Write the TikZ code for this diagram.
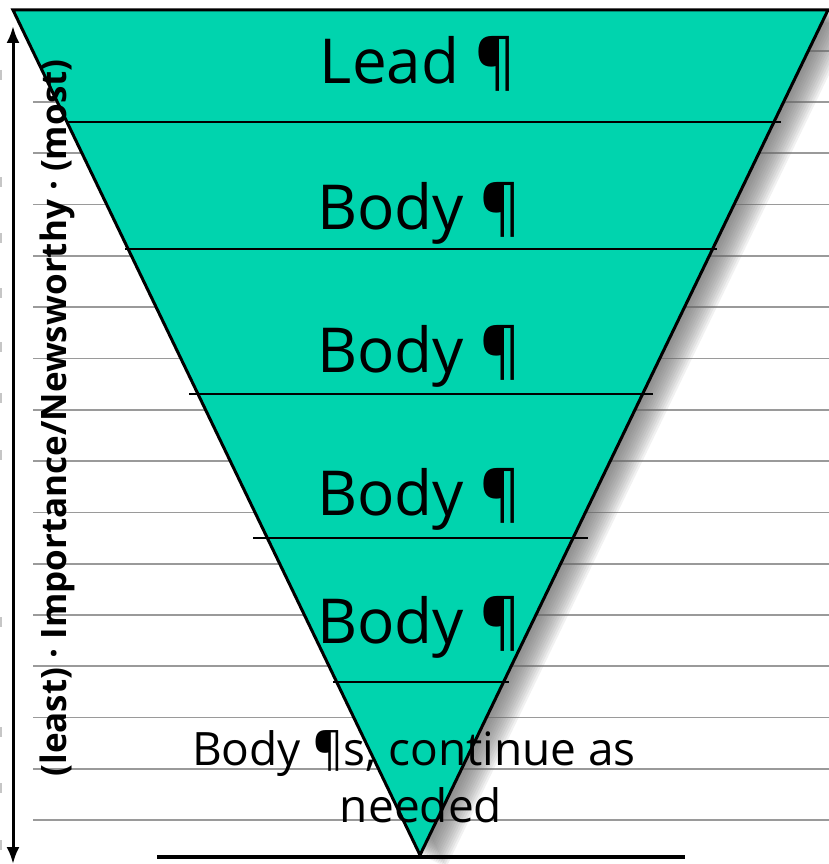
\documentclass[tikz,border=0pt]{standalone}
\usepackage{fontspec}
\setmainfont{Open Sans}
\usetikzlibrary{arrows.meta}
\definecolor{teal1}{HTML}{00D4AE}
\definecolor{rule}{HTML}{9A9A9A}
\tikzset{
  ruleline/.style={draw=rule,line width=1.7pt},
  divider/.style={draw=black,line width=2.5pt},
  lbl/.style={font=\fontsize{62}{74}\selectfont,anchor=base,inner sep=0pt},
  smalllbl/.style={font=\fontsize{46}{57}\selectfont,align=center,inner sep=0pt},
  axislbl/.style={font=\bfseries\fontsize{35}{40}\selectfont,anchor=base,rotate=90,inner sep=0pt},
  tick/.style={draw=gray!45,line width=3pt},
  shadowlayer/.style={fill=black!60,opacity=0.09}
}
\begin{document}
\begin{tikzpicture}[x=1pt,y=-1pt]
\useasboundingbox (0,0) rectangle (829,864);
\fill[white] (0,0) rectangle (829,864);
% ruled lines
\foreach \k in {0,...,15}{
  \draw[ruleline] (33,{50.7+51.3*\k}) -- (829,{50.7+51.3*\k});
}
% left edge ticks
\foreach \yy in {75,182,238,293,347,398,455,622,732,788,845}{
  \draw[tick] (0,\yy-5) -- (0,\yy+5);
}
% triangle
\coordinate (tl) at (13,10);
\coordinate (tr) at (828,10);
\coordinate (ap) at (420,855);
% shadow
\foreach \s in {2,4,...,26}{
  \fill[shadowlayer] ([shift={(\s,\s/2)}]tl) -- ([shift={(\s,\s/2)}]tr) -- ([shift={(\s,\s/2)}]ap) -- cycle;
}
\fill[teal1] (tl) -- (tr) -- (ap) -- cycle;
\draw[line width=3pt,line join=miter] (tl) -- (tr) -- (ap) -- cycle;
% dividers
\coordinate (d1a) at (67,122);  \coordinate (d1b) at (781,122);
\coordinate (d2a) at (125,249); \coordinate (d2b) at (717,249);
\coordinate (d3a) at (189,394); \coordinate (d3b) at (653,394);
\coordinate (d4a) at (253,538); \coordinate (d4b) at (588,538);
\coordinate (d5a) at (333,682); \coordinate (d5b) at (509,682);
\draw[divider] (d1a) -- (d1b);
\draw[divider] (d2a) -- (d2b);
\draw[divider] (d3a) -- (d3b);
\draw[divider] (d4a) -- (d4b);
\draw[divider] (d5a) -- (d5b);
% base line
\coordinate (b1) at (157,857); \coordinate (b2) at (685,857);
\draw[line width=4pt] (b1) -- (b2);
% labels
\node[lbl] (lead) at (418,84) {Lead ¶};
\node[lbl] (body1) at (419,229) {Body ¶};
\node[lbl] (body2) at (419,372) {Body ¶};
\node[lbl] (body3) at (419,515) {Body ¶};
\node[lbl] (body4) at (419,643) {Body ¶};
\node[smalllbl,anchor=base] (rest1) at (414,765) {Body ¶s, continue as};
\node[smalllbl,anchor=base] (rest2) at (421,822) {needed};
% axis arrow
\coordinate (atop) at (13,26);
\coordinate (abot) at (13,864);
\draw[line width=3pt,{Latex[length=17pt,width=13pt]}-{Latex[length=17pt,width=13pt]}] (abot) -- (atop);
\node[axislbl] (axis) at (66,418) {(least) · Importance/Newsworthy · (most)};
\end{tikzpicture}
\end{document}
